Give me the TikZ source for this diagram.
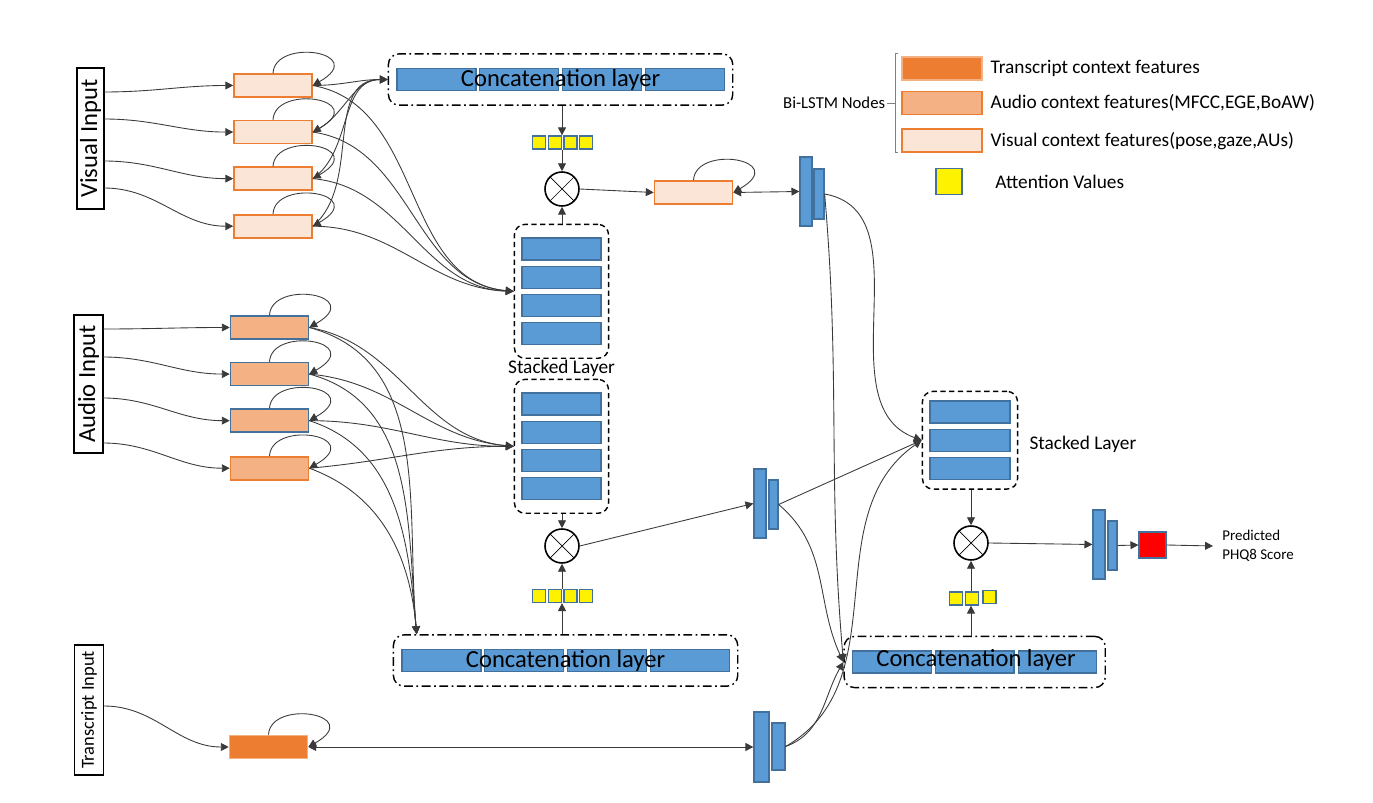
\documentclass[tikz,border=0pt]{standalone}
\usepackage{fontspec}
\setmainfont{Carlito}
\usepackage{xcolor}
\usepackage{tikz}
\usetikzlibrary{positioning,arrows.meta,fit,calc}
\definecolor{cellblue}{HTML}{5B9BD5}
\definecolor{celledge}{HTML}{41719C}
\definecolor{orng}{HTML}{ED7D31}
\definecolor{orngmid}{HTML}{F4B183}
\definecolor{orngpale}{HTML}{FBE5D6}
\definecolor{wire}{HTML}{3A3A3A}
\tikzset{
  vis/.style={draw=orng,fill=orngpale,line width=0.9pt,minimum width=1.56cm,minimum height=0.46cm,inner sep=0pt},
  aud/.style={vis,draw=celledge,fill=orngmid},
  trs/.style={vis,draw=orngmid,fill=orng},
  cell/.style={draw=celledge,fill=cellblue,line width=0.7pt,minimum width=1.58cm,minimum height=0.44cm,inner sep=0pt},
  bar/.style={draw=celledge,fill=cellblue,line width=0.7pt,inner sep=0pt},
  att/.style={draw=celledge,fill=yellow,line width=0.7pt,minimum size=0.26cm,inner sep=0pt},
  stk/.style={draw,line width=0.8pt,dash pattern=on 3pt off 2pt,rounded corners=6pt,inner xsep=0.14cm,inner ysep=0.26cm},
  cat/.style={draw,line width=0.8pt,dash pattern=on 5pt off 2pt on 1pt off 2pt,rounded corners=6pt,inner xsep=0.16cm,inner ysep=0.28cm},
  mul/.style={circle,draw,line width=0.9pt,minimum size=0.68cm,inner sep=0pt,
    path picture={\draw[line width=0.4pt] (path picture bounding box.north west) -- (path picture bounding box.south east)
      (path picture bounding box.north east) -- (path picture bounding box.south west);}},
  inp/.style={draw,line width=0.9pt,rotate=90,inner sep=0pt,font=\fontsize{14}{16}\selectfont},
  big/.style={font=\fontsize{14}{16}\selectfont},
  lgd/.style={font=\fontsize{11}{13}\selectfont,inner sep=2pt},
  arr/.style={-{Triangle[length=4.5pt,width=4.5pt]},draw=wire,line width=0.5pt},
  arr2/.style={arr,{Triangle[length=4.5pt,width=4.5pt]}-{Triangle[length=4.5pt,width=4.5pt]}},
  lp/.style={arr,to path={.. controls ($(\tikztostart)+(0.04cm,0.72cm)$) and ($(\tikztotarget)+(1.15cm,0.66cm)$) .. (\tikztotarget)}},
}
\begin{document}
\begin{tikzpicture}[x=0.02cm,y=0.02cm]
  \useasboundingbox (0,0) rectangle (1373,-803);
  % inputs
  \node[inp,minimum width=2.82cm,minimum height=0.54cm] (vin) at (90.5,-138.5) {Visual Input};
  \node[inp,minimum width=2.76cm,minimum height=0.58cm] (ain) at (88.5,-384) {Audio Input};
  \node[inp,minimum width=2.6cm,minimum height=0.58cm,font=\fontsize{10.5}{12}\selectfont] (tin) at (89,-710) {Transcript Input};
  \coordinate (vi1) at (104,-92);  \coordinate (vi2) at (104,-119);
  \coordinate (vi3) at (104,-161); \coordinate (vi4) at (104,-188);
  \coordinate (ai1) at (103,-329); \coordinate (ai2) at (103,-357);
  \coordinate (ai3) at (103,-398); \coordinate (ai4) at (103,-443);
  \coordinate (ti1) at (104,-706);
  % bi-lstm nodes
  \node[vis] (v1) at (273,-85.5) {};
  \node[vis,below=0.44cm of v1] (v2) {};
  \node[vis,below=0.44cm of v2] (v3) {};
  \node[vis,below=0.46cm of v3] (v4) {};
  \node[aud] (a1) at (269.5,-327.5) {};
  \node[aud,below=0.44cm of a1] (a2) {};
  \node[aud,below=0.44cm of a2] (a3) {};
  \node[aud,draw=orng,below=0.46cm of a3] (a4) {};
  \node[trs] (t1) at (268.5,-747) {};
  % visual branch
  \node[cell] (vc1) at (436.5,-79.5) {};
  \node[cell,right=0.05cm of vc1] (vc2) {};
  \node[cell,right=0.05cm of vc2] (vc3) {};
  \node[cell,right=0.05cm of vc3] (vc4) {};
  \node[cat,fit=(vc1)(vc4)] (vcat) {};
  \node[big] at (vcat.center) {Concatenation layer};
  \node[att] (vy1) at (539,-142.5) {};
  \node[att,right=0.03cm of vy1] (vy2) {};
  \node[att,right=0.03cm of vy2] (vy3) {};
  \node[att,right=0.03cm of vy3] (vy4) {};
  \node[mul] (m1) at (562,-189) {};
  \node[cell] (vs1) at (561.5,-249) {};
  \node[cell,below=0.1cm of vs1] (vs2) {};
  \node[cell,below=0.1cm of vs2] (vs3) {};
  \node[cell,below=0.1cm of vs3] (vs4) {};
  \node[stk,fit=(vs1)(vs4)] (vstk) {};
  \node[below=-0.1cm of vstk,font=\fontsize{11}{13}\selectfont] (vlbl) {Stacked Layer};
  \node[vis] (va) at (693.5,-192.5) {};
  \node[bar,minimum width=0.24cm,minimum height=1.38cm] (tb1) at (806,-191.5) {};
  \node[bar,minimum width=0.2cm,minimum height=1cm] (tb2) at (819,-194) {};
  % audio branch
  \node[cell] (as1) at (561.5,-404) {};
  \node[cell,below=0.1cm of as1] (as2) {};
  \node[cell,below=0.1cm of as2] (as3) {};
  \node[cell,below=0.1cm of as3] (as4) {};
  \node[stk,fit=(as1)(as4)] (astk) {};
  \node[mul] (m2) at (562,-546) {};
  \node[att] (ay1) at (539,-596) {};
  \node[att,right=0.03cm of ay1] (ay2) {};
  \node[att,right=0.03cm of ay2] (ay3) {};
  \node[att,right=0.03cm of ay3] (ay4) {};
  \node[cell] (ac1) at (441.5,-660.5) {};
  \node[cell,right=0.05cm of ac1] (ac2) {};
  \node[cell,right=0.05cm of ac2] (ac3) {};
  \node[cell,right=0.05cm of ac3] (ac4) {};
  \node[cat,fit=(ac1)(ac4)] (acat) {};
  \node[big] at (acat.center) {Concatenation layer};
  \coordinate (acin) at ([xshift=0.48cm]acat.north west);
  \node[bar,minimum width=0.24cm,minimum height=1.38cm] (mb1) at (760,-503.5) {};
  \node[bar,minimum width=0.18cm,minimum height=0.98cm] (mb2) at (773.5,-504.5) {};
  \node[bar,minimum width=0.3cm,minimum height=1.4cm] (bb1) at (761.5,-747) {};
  \node[bar,minimum width=0.26cm,minimum height=0.94cm] (bb2) at (778.5,-746.5) {};
  % fusion
  \node[cell,minimum width=1.6cm] (rs1) at (970,-412) {};
  \node[cell,minimum width=1.6cm,below=0.1cm of rs1] (rs2) {};
  \node[cell,minimum width=1.6cm,below=0.1cm of rs2] (rs3) {};
  \node[stk,inner ysep=0.18cm,fit=(rs1)(rs3)] (rstk) {};
  \node[right=0.1cm of rstk,yshift=-0.08cm,font=\fontsize{11}{13}\selectfont] (rlbl) {Stacked Layer};
  \node[mul] (m3) at (971,-543) {};
  \node[att] (ry1) at (956,-598.5) {};
  \node[att,right=0.04cm of ry1] (ry2) {};
  \node[att,right=0.06cm of ry2,yshift=0.03cm] (ry3) {};
  \node[cell,minimum width=1.57cm] (rc1) at (892,-662) {};
  \node[cell,minimum width=1.57cm,right=0.06cm of rc1] (rc2) {};
  \node[cell,minimum width=1.57cm,right=0.06cm of rc2] (rc3) {};
  \node[cat,fit=(rc1)(rc3)] (rcat) {};
  \node[big] at (976,-660) {Concatenation layer};
  \node[bar,minimum width=0.24cm,minimum height=1.38cm] (fb1) at (1099,-544.5) {};
  \node[bar,minimum width=0.18cm,minimum height=0.98cm] (fb2) at (1112.5,-545.5) {};
  \node[draw=celledge,fill=red,line width=0.7pt,minimum width=0.54cm,minimum height=0.52cm,inner sep=0pt] (red) at (1152.5,-545) {};
  \node[anchor=west,align=left,inner sep=0pt,font=\fontsize{8.5}{10.5}\selectfont] (ptxt) at (1222,-546) {Predicted\\PHQ8 Score};
  % legend
  \node[trs,minimum width=1.6cm] (lt) at (942,-68.5) {};
  \node[aud,draw=orng,minimum width=1.6cm,below=0.2cm of lt] (la) {};
  \node[vis,minimum width=1.6cm,below=0.26cm of la] (lv) {};
  \node[lgd,right=0.08cm of lt] {Transcript context features};
  \node[lgd,right=0.08cm of la] {Audio context features(MFCC,EGE,BoAW)};
  \node[lgd,right=0.08cm of lv] {Visual context features(pose,gaze,AUs)};
  \coordinate (brk) at ([xshift=-0.12cm]la.west);
  \node[left=0.16cm of brk,inner sep=1pt,font=\fontsize{9.5}{11}\selectfont] (bil) {Bi-LSTM Nodes};
  \draw[gray,line width=0.6pt] ([xshift=-0.06cm,yshift=0.06cm]lt.north west) -| ([xshift=-0.12cm]lv.south west) -- ([xshift=-0.06cm]lv.south west);
  \draw[gray,line width=0.6pt] (bil.east) -- (brk);
  \node[att,minimum size=0.52cm] (lat) at (949,-181.5) {};
  \node[lgd,right=0.58cm of lat] {Attention Values};
  % input connectors
  \draw[arr] (vi1) to[out=0,in=180] (v1.west);
  \draw[arr] (vi2) to[out=0,in=180] (v2.west);
  \draw[arr] (vi3) to[out=0,in=180] (v3.west);
  \draw[arr] (vi4) to[out=0,in=180] (v4.west);
  \draw[arr] (ai1) to[out=0,in=180] (a1.west);
  \draw[arr] (ai2) to[out=0,in=180] (a2.west);
  \draw[arr] (ai3) to[out=0,in=180] (a3.west);
  \draw[arr] (ai4) to[out=0,in=180] (a4.west);
  \draw[arr] (ti1) to[out=0,in=180] (t1.west);
  % recurrent loops
  \draw[lp] (v1.north) to (v1.east); \draw[lp] (v2.north) to (v2.east);
  \draw[lp] (v3.north) to (v3.east); \draw[lp] (v4.north) to (v4.east);
  \draw[lp] (a1.north) to (a1.east); \draw[lp] (a2.north) to (a2.east);
  \draw[lp] (a3.north) to (a3.east); \draw[lp] (a4.north) to (a4.east);
  \draw[lp] (t1.north) to (t1.east); \draw[lp] (va.north) to (va.east);
  % visual nodes to concat and stack
  \draw[arr] (v1.east) to[out=0,in=180] (vcat.west);
  \draw[arr] (v2.east) to[out=25,in=180] (vcat.west);
  \draw[arr] (v3.east) to[out=35,in=180] (vcat.west);
  \draw[arr] (v4.east) to[out=40,in=180] (vcat.west);
  \draw[arr] (v1.east) to[out=-10,in=175] (vstk.west);
  \draw[arr] (v2.east) to[out=-8,in=175] (vstk.west);
  \draw[arr] (v3.east) to[out=-5,in=178] (vstk.west);
  \draw[arr] (v4.east) to[out=0,in=178] (vstk.west);
  % audio nodes to stack and concat
  \draw[arr] (a1.east) to[out=-10,in=175] (astk.west);
  \draw[arr] (a2.east) to[out=-5,in=175] (astk.west);
  \draw[arr] (a3.east) to[out=0,in=180] (astk.west);
  \draw[arr] (a4.east) to[out=5,in=180] (astk.west);
  \draw[arr] (a1.east) to[out=-15,in=95] (acin);
  \draw[arr] (a2.east) to[out=-15,in=95] (acin);
  \draw[arr] (a3.east) to[out=-18,in=95] (acin);
  \draw[arr] (a4.east) to[out=-20,in=95] (acin);
  % attention
  \draw[arr] (vcat.south -| m1) -- (vy3.north -| m1);
  \draw[arr] (vy3.south -| m1) -- (m1.north);
  \draw[arr] (vstk.north -| m1) -- (m1.south);
  \draw[arr] (m1.east) -- (va.west);
  \draw[arr2] (va.east) -- (tb1.west);
  \draw[arr] (astk.south -| m2) -- (m2.north);
  \draw[arr] (ay3.north -| m2) -- (m2.south);
  \draw[arr] (acat.north -| m2) -- (ay3.south -| m2);
  \draw[arr] (m2.east) -- (mb1.west);
  \draw[arr2] (t1.east) -- (bb1.west);
  % fusion
  \draw[arr] (tb2.east) to[out=-10,in=160] (rstk.west);
  \draw[arr] (tb2.east) to[out=-85,in=95] (rcat.west);
  \draw[arr] (mb2.east) -- (rstk.west);
  \draw[arr] (mb2.east) to[out=-40,in=115] (rcat.west);
  \draw[arr] (bb2.east) to[out=20,in=-120] (rcat.west);
  \draw[arr] (bb2.east) to[out=30,in=215] (rstk.west);
  \draw[arr] (rstk.south -| m3) -- (m3.north);
  \draw[arr] (ry2.north -| m3) -- (m3.south);
  \draw[arr] (rcat.north -| m3) -- (ry2.south -| m3);
  \draw[arr] (m3.east) -- (fb1.west);
  \draw[arr] (fb2.east) -- (red.west);
  \draw[arr] (red.east) -- ([xshift=-0.18cm]ptxt.west);
\end{tikzpicture}
\end{document}
